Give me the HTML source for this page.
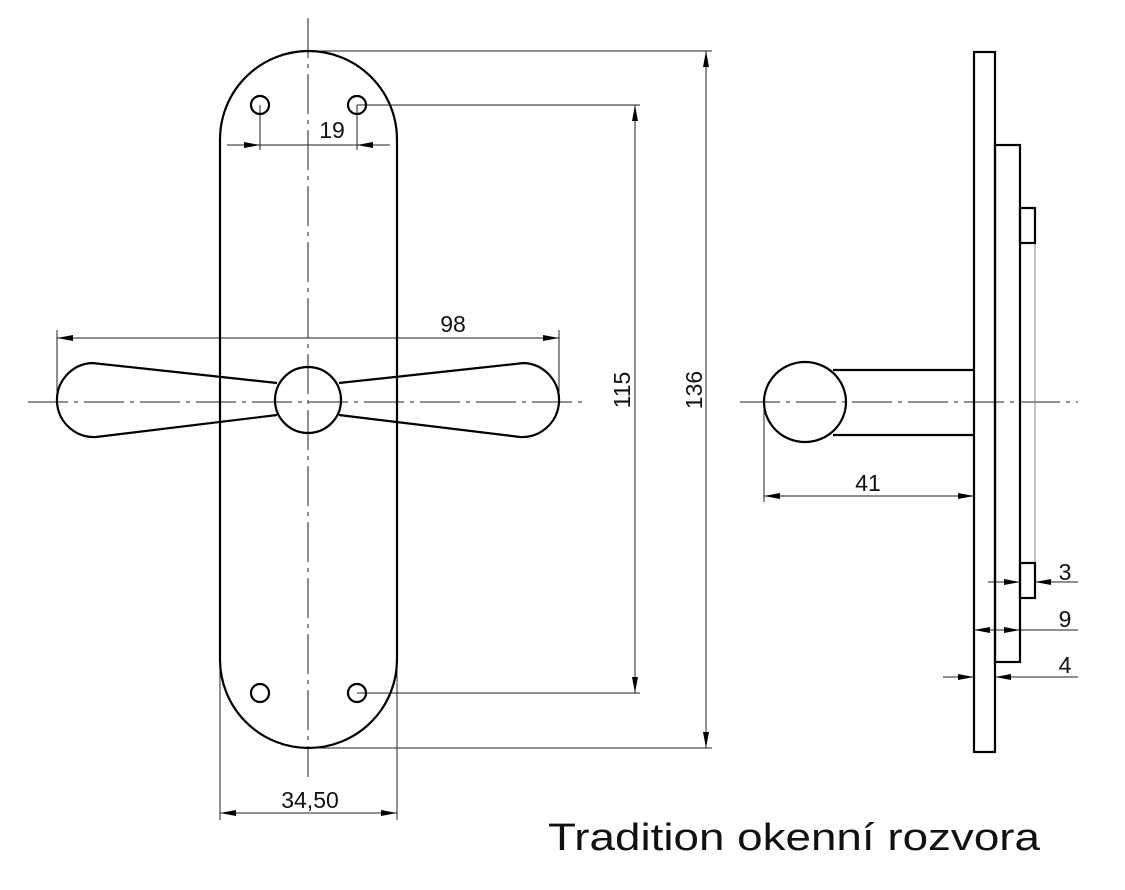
<!DOCTYPE html>
<html><head><meta charset="utf-8"><style>
html,body{margin:0;padding:0;background:#fff;}
svg{display:block;}
text{font-family:"Liberation Sans",sans-serif;fill:#111;}
</style></head><body>
<svg width="1125" height="890" viewBox="0 0 1125 890" xmlns="http://www.w3.org/2000/svg">
<defs>
<marker id="a" viewBox="0 0 16 6" refX="16" refY="3" markerWidth="16" markerHeight="6" markerUnits="userSpaceOnUse" orient="auto"><path d="M0,0 L16,3 L0,6 Z" fill="#000"/></marker>
</defs>
<g stroke="#222" stroke-width="1" fill="none">
<line x1="308" y1="18" x2="308" y2="777" stroke-dasharray="40,6,4,6"/>
<line x1="28" y1="402" x2="582" y2="402" stroke-dasharray="40,6,4,6"/>
<line x1="740" y1="402" x2="1078" y2="402" stroke-dasharray="40,6,4,6"/>
<line x1="308" y1="51" x2="712" y2="51"/>
<line x1="308" y1="748" x2="712" y2="748"/>
<line x1="357" y1="105" x2="640" y2="105"/>
<line x1="357" y1="693" x2="640" y2="693"/>
<line x1="260" y1="105" x2="260" y2="150"/>
<line x1="357" y1="105" x2="357" y2="150"/>
<line x1="57" y1="330" x2="57" y2="402"/>
<line x1="559" y1="330" x2="559" y2="402"/>
<line x1="220" y1="402" x2="220" y2="820"/>
<line x1="397" y1="402" x2="397" y2="820"/>
<line x1="764" y1="402" x2="764" y2="502"/>
<line x1="1035" y1="243" x2="1035" y2="563" stroke="#888"/>
<line x1="227" y1="145" x2="260" y2="145" marker-end="url(#a)"/>
<line x1="390" y1="145" x2="357" y2="145" marker-end="url(#a)"/>
<line x1="260" y1="145" x2="357" y2="145"/>
<line x1="308" y1="338" x2="57" y2="338" marker-end="url(#a)"/>
<line x1="308" y1="338" x2="559" y2="338" marker-end="url(#a)"/>
<line x1="635" y1="400" x2="635" y2="105" marker-end="url(#a)"/>
<line x1="635" y1="400" x2="635" y2="693" marker-end="url(#a)"/>
<line x1="706" y1="400" x2="706" y2="51" marker-end="url(#a)"/>
<line x1="706" y1="400" x2="706" y2="748" marker-end="url(#a)"/>
<line x1="308" y1="813" x2="220" y2="813" marker-end="url(#a)"/>
<line x1="308" y1="813" x2="397" y2="813" marker-end="url(#a)"/>
<line x1="870" y1="496" x2="764" y2="496" marker-end="url(#a)"/>
<line x1="870" y1="496" x2="974" y2="496" marker-end="url(#a)"/>
<line x1="988" y1="582" x2="1020" y2="582" marker-end="url(#a)"/>
<line x1="1078" y1="582" x2="1035" y2="582" marker-end="url(#a)"/>
<line x1="997" y1="630" x2="974" y2="630" marker-end="url(#a)"/>
<line x1="997" y1="630" x2="1020" y2="630" marker-end="url(#a)"/>
<line x1="1020" y1="630" x2="1078" y2="630"/>
<line x1="943" y1="677" x2="974" y2="677" marker-end="url(#a)"/>
<line x1="1078" y1="677" x2="995" y2="677" marker-end="url(#a)"/>
</g>
<g stroke="#000" stroke-width="2.2" fill="none">
<path d="M220,139.5 A88.5,88.5 0 0 1 397,139.5 L397,659.5 A88.5,88.5 0 0 1 220,659.5 Z"/>
<circle cx="260" cy="105" r="9"/><circle cx="357" cy="105" r="9"/>
<circle cx="260" cy="693" r="9"/><circle cx="357" cy="693" r="9"/>
<path d="M277,383 L92,363 A37,37 0 0 0 96,437 L277,415"/>
<path d="M339,383 L524,363 A37,37 0 0 1 520,437 L339,415"/>
<circle cx="308" cy="400" r="33"/>
<rect x="974" y="52" width="21" height="700"/>
<rect x="995" y="145" width="25" height="517"/>
<rect x="1020" y="208" width="15" height="35"/>
<rect x="1020" y="563" width="15" height="35"/>
<ellipse cx="805" cy="402" rx="41" ry="40"/>
<line x1="833" y1="370" x2="974" y2="370"/>
<line x1="833" y1="435" x2="974" y2="435"/>
</g>
<g font-size="23">
<text x="332" y="138" text-anchor="middle">19</text>
<text x="453" y="332" text-anchor="middle">98</text>
<text x="310" y="808" text-anchor="middle">34,50</text>
<text x="868" y="491" text-anchor="middle">41</text>
<text x="1065" y="580" text-anchor="middle">3</text>
<text x="1065" y="627" text-anchor="middle">9</text>
<text x="1065" y="673" text-anchor="middle">4</text>
<text transform="translate(630,390) rotate(-90)" text-anchor="middle">115</text>
<text transform="translate(702,390) rotate(-90)" text-anchor="middle">136</text>
</g>
<text x="548" y="850" font-size="38" textLength="492" lengthAdjust="spacingAndGlyphs">Tradition okenní rozvora</text>
</svg>
</body></html>
